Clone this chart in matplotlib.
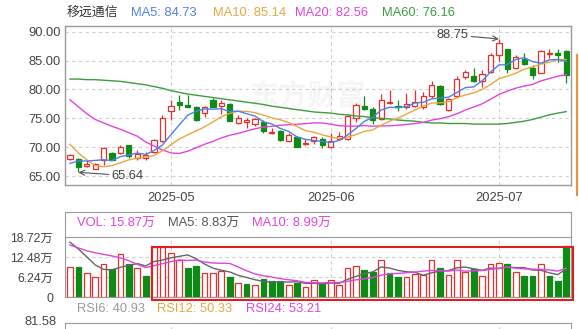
import matplotlib
matplotlib.use("Agg")
import matplotlib.pyplot as plt
import numpy as np
import pandas as pd
from matplotlib.patches import Rectangle
from matplotlib.lines import Line2D

# ---------------- data ----------------
opens = [67.9, 67.9, 66.8, 66.3, 67.8, 69.0, 69.0, 70.3, 68.2, 68.2,
         69.2, 71.1, 76.2, 77.9, 77.3, 76.9, 76.0, 78.2, 77.1, 77.4,
         74.2, 74.4, 74.0, 74.4, 72.45, 72.8, 71.1, 71.7, 70.5, 71.0,
         71.4, 70.1, 71.4, 71.5, 75.0, 77.1, 76.6, 74.8, 77.6, 77.1,
         76.9, 77.1, 76.9, 78.8, 80.6, 76.4, 78.8, 82.2, 82.3, 81.4,
         83.1, 86.0, 87.1, 83.7, 85.2, 83.7, 82.9, 86.2, 86.3, 86.6]
highs = [68.9, 68.2, 67.8, 67.2, 70.1, 69.2, 70.4, 70.4, 69.5, 69.2,
         71.5, 75.6, 78.2, 79.0, 79.1, 77.2, 77.2, 78.6, 78.2, 77.6,
         75.6, 75.0, 75.0, 74.7, 73.4, 73.0, 72.4, 71.9, 71.4, 71.9,
         71.8, 72.4, 72.6, 75.6, 77.6, 78.8, 76.9, 79.3, 79.9, 78.2,
         79.4, 79.9, 79.6, 81.5, 80.8, 78.6, 82.3, 83.4, 83.7, 83.4,
         86.3, 88.75, 87.1, 86.0, 86.3, 84.2, 86.9, 87.0, 87.0, 86.9]
lows = [67.7, 65.64, 66.5, 66.2, 66.9, 67.7, 68.8, 68.1, 67.8, 67.8,
        69.0, 70.9, 74.7, 76.4, 76.9, 74.6, 75.3, 76.9, 75.8, 74.5,
        74.0, 73.3, 73.7, 72.5, 72.3, 71.1, 70.9, 70.0, 70.4, 70.6,
        69.8, 69.8, 71.2, 71.3, 74.3, 76.4, 74.1, 74.7, 77.5, 76.2,
        76.7, 76.9, 76.6, 78.5, 77.3, 76.3, 78.5, 81.9, 81.3, 80.5,
        82.8, 85.0, 82.9, 83.5, 84.2, 81.8, 82.8, 85.4, 84.7, 81.2]
closes = [68.6, 66.6, 67.0, 67.1, 69.8, 67.8, 70.1, 68.4, 68.8, 68.6,
          71.2, 75.0, 77.2, 77.3, 77.0, 74.7, 76.9, 77.0, 77.7, 74.6,
          75.0, 74.7, 74.9, 72.8, 72.65, 71.2, 72.1, 70.1, 70.7, 71.7,
          70.4, 71.1, 71.9, 75.4, 77.3, 76.6, 74.7, 78.2, 77.8, 76.9,
          77.5, 77.9, 78.8, 80.8, 77.5, 78.3, 81.9, 83.1, 81.4, 82.7,
          86.0, 88.0, 83.5, 85.7, 84.4, 82.5, 86.7, 86.4, 86.0, 82.5]
# volume, unit: 万
volumes = [9.5, 9.5, 7.4, 6.3, 10.4, 8.8, 13.5, 10.3, 9.2, 6.7,
           15.7, 15.7, 13.85, 11.5, 8.9, 9.8, 7.4, 7.4, 8.2, 6.3,
           4.5, 4.1, 3.8, 5.7, 5.0, 5.0, 3.8, 4.4, 3.0, 5.2,
           4.1, 5.2, 3.8, 9.2, 9.8, 8.4, 7.9, 11.5, 7.6, 6.1,
           6.3, 7.1, 6.8, 11.4, 9.0, 7.0, 11.4, 7.9, 8.7, 6.7,
           10.4, 10.6, 10.4, 7.8, 6.7, 6.5, 10.2, 6.5, 5.0, 15.87]
# moving-average values before enough visible days exist
ma5_lead = [67.2, 67.6, 67.6, 67.7]
ma10_lead = [70.5, 69.0, 67.8, 66.8, 66.6, 66.8, 67.3, 67.8, 68.1]
ma20_lead = [78.2, 77.0, 75.8, 74.8, 74.2, 73.6, 73.1, 72.5, 71.9, 70.9,
             70.2, 69.5, 69.0, 68.9, 69.3, 69.9, 70.5, 71.0, 71.6]
ma60_vals = [81.8, 81.8, 81.7, 81.7, 81.6, 81.5, 81.4, 81.2, 81.0, 80.8,
             80.5, 80.2, 79.8, 79.5, 79.2, 79.0, 78.8, 78.6, 78.4, 78.2,
             78.0, 77.8, 77.6, 77.4, 77.1, 76.9, 76.7, 76.5, 76.3, 76.1,
             76.0, 75.9, 75.7, 75.6, 75.4, 75.3, 75.1, 75.0, 74.9, 74.7,
             74.6, 74.5, 74.3, 74.2, 74.2, 74.1, 74.1, 74.1, 74.0, 74.0,
             74.0, 74.0, 74.1, 74.3, 74.5, 74.8, 75.2, 75.6, 75.9, 76.16]
vma5_lead = [17.1, 15.0, 12.5, 10.0]
vma10_lead = [16.2, 15.3, 14.4, 13.8, 13.3, 12.8, 12.2, 11.3, 10.2]

date_tick_idx = [12, 31, 51]
date_tick_labels = ["2025-05", "2025-06", "2025-07"]
price_ticks = [65, 70, 75, 80, 85, 90]
vol_ticks = [0, 6.24, 12.48, 18.72]
vol_tick_labels = ["0", "6.24万", "12.48万", "18.72万"]

stock_name = "移远通信"
ma_labels = ["MA5: 84.73", "MA10: 85.14", "MA20: 82.56", "MA60: 76.16"]
vol_labels = ["VOL: 15.87万", "MA5: 8.83万", "MA10: 8.99万"]
rsi_labels = ["RSI6: 40.93", "RSI12: 50.33", "RSI24: 53.21"]
rsi_top_label = "81.58"

# ---------------- styling ----------------
RED = "#E62E2E"
GREEN = "#0E8A16"
C_MA5 = "#4F80E8"
C_MA10 = "#E9A640"
C_MA20 = "#E044E0"
C_MA60 = "#3E9B3E"
SPINE = "#9A9A9A"
GRID = "#CFCFCF"
TXT = "#444444"
FS = 9.3

plt.rcParams['font.family'] = ['Liberation Sans', 'Noto Sans CJK SC', 'DejaVu Sans']

W, H = 579, 329
fig = plt.figure(figsize=(W / 100, H / 100), dpi=100)


def rect(x0, y0, x1, y1):
    return [x0 / W, 1 - y1 / H, (x1 - x0) / W, (y1 - y0) / H]


def ftext(x, y, s, color, ha='left', fs=FS):
    fig.text(x / W, 1 - y / H, s, color=color, ha=ha, va='center', fontsize=fs)


o = np.array(opens); h = np.array(highs); l = np.array(lows); c = np.array(closes)
v = np.array(volumes)
n = len(c)
x = np.arange(n)
XL = (-0.59, 59.57)


def with_lead(series, window, lead):
    r = pd.Series(series).rolling(window).mean().to_numpy()
    r[:len(lead)] = lead
    return r


ma5 = with_lead(c, 5, ma5_lead)
ma10 = with_lead(c, 10, ma10_lead)
ma20 = with_lead(c, 20, ma20_lead)
ma60 = np.array(ma60_vals)
vma5 = with_lead(v, 5, vma5_lead)
vma10 = with_lead(v, 10, vma10_lead)

# ---------------- main candlestick panel ----------------
ax = fig.add_axes(rect(65, 26, 571, 185))
ax.set_xlim(*XL)
ax.set_ylim(63.44, 91.0)
ax.set_yticks(price_ticks)
ax.set_yticklabels([f"{t:.2f}" for t in price_ticks])
ax.set_xticks(date_tick_idx)
ax.set_xticklabels(date_tick_labels)
ax.grid(True, ls=(0, (3, 3)), color=GRID, lw=0.8)
ax.set_axisbelow(True)
ax.tick_params(length=0, labelsize=FS, colors=TXT)
ax.tick_params(axis='y', pad=3)
ax.tick_params(axis='x', pad=5)
for s in ax.spines.values():
    s.set_color(SPINE)
    s.set_linewidth(1.0)

ax.text(0.48, 0.56, "东方财富", transform=ax.transAxes, ha='center', va='center',
        fontsize=21, color='#000000', alpha=0.04, fontweight='bold',
        family=['Noto Sans CJK SC'], zorder=1)

up = c >= o
blo = np.minimum(o, c)
bhi = np.maximum(o, c)
bh = np.maximum(bhi - blo, 0.07)
cols = np.where(up, RED, GREEN)
ax.vlines(x, bhi, h, colors=cols, lw=0.9, zorder=3)
ax.vlines(x, l, blo, colors=cols, lw=0.9, zorder=3)
ax.bar(x[up], bh[up], bottom=blo[up], width=0.62, facecolor='white',
       edgecolor=RED, linewidth=0.9, zorder=3)
ax.bar(x[~up], bh[~up], bottom=blo[~up], width=0.62, facecolor=GREEN,
       edgecolor=GREEN, linewidth=0.9, zorder=3)

for ma, col in [(ma60, C_MA60), (ma20, C_MA20), (ma10, C_MA10), (ma5, C_MA5)]:
    ax.plot(x, ma, color=col, lw=1.0, zorder=4)

imax = int(np.argmax(h)); imin = int(np.argmin(l))
ax.annotate(f"{h[imax]:.2f}", xy=(x[imax], h[imax]), xytext=(-22, 3),
            textcoords='offset points', ha='right', va='center', fontsize=FS,
            color=TXT, zorder=6,
            arrowprops=dict(arrowstyle='->', color='#555555', lw=0.8,
                            shrinkA=0, shrinkB=0))
ax.annotate(f"{l[imin]:.2f}", xy=(x[imin], l[imin]), xytext=(24, -2.5),
            textcoords='offset points', ha='left', va='center', fontsize=FS,
            color=TXT, zorder=6,
            arrowprops=dict(arrowstyle='->', color='#555555', lw=0.8,
                            shrinkA=0, shrinkB=0))

# title row
ftext(67, 13, stock_name, "#333333")
for xp, s, col in zip([131, 213, 295, 382], ma_labels, [C_MA5, C_MA10, C_MA20, C_MA60]):
    ftext(xp, 13, s, col)

# ---------------- volume legend frame ----------------
axl = fig.add_axes(rect(65, 212, 571, 237))
axl.set_xticks([]); axl.set_yticks([])
axl.patch.set_alpha(0)
for k, s in axl.spines.items():
    s.set_color(SPINE)
axl.spines['bottom'].set_visible(False)
for xp, s, col in zip([77, 168, 252], vol_labels, [C_MA20, "#555555", C_MA20]):
    ftext(xp, 224, s, col)

# ---------------- volume panel ----------------
axv = fig.add_axes(rect(65, 237, 571, 297))
axv.set_xlim(*XL)
axv.set_ylim(0, 18.72)
axv.set_yticks(vol_ticks)
axv.set_yticklabels(vol_tick_labels)
axv.set_xticks(date_tick_idx)
axv.set_xticklabels([])
axv.grid(True, ls=(0, (3, 3)), color=GRID, lw=0.8)
axv.set_axisbelow(True)
axv.tick_params(length=0, labelsize=FS - 0.5, colors=TXT, pad=8.5)
for s in axv.spines.values():
    s.set_color(SPINE)

prev = np.concatenate([[o[0]], c[:-1]])
vup = c >= prev
axv.bar(x[vup], v[vup], width=0.68, facecolor='white', edgecolor=RED,
        linewidth=0.9, zorder=3)
axv.bar(x[~vup], v[~vup], width=0.68, facecolor=GREEN, edgecolor=GREEN,
        linewidth=0.9, zorder=3)
axv.plot(x, vma5, color='#666666', lw=1.0, zorder=4)
axv.plot(x, vma10, color=C_MA20, lw=1.0, zorder=4)

# highlight box
fig.patches.append(Rectangle((152 / W, 1 - 300 / H), (573 - 152) / W, (300 - 247) / H,
                             transform=fig.transFigure, fill=False,
                             edgecolor='#E02020', lw=1.5, zorder=10))

# ---------------- RSI row (cut off) ----------------
for xp, s, col in zip([77, 157, 246], rsi_labels, ["#9A9A9A", C_MA10, C_MA20]):
    ftext(xp, 309, s, col)
ftext(57, 322, rsi_top_label, TXT, ha='right')
axr = fig.add_axes(rect(65, 323, 571, 420))
axr.set_xlim(*XL)
axr.set_xticks(date_tick_idx)
axr.set_xticklabels([])
axr.set_yticks([])
axr.grid(True, axis='x', ls=(0, (3, 3)), color=GRID, lw=0.8)
axr.tick_params(length=0)
for s in axr.spines.values():
    s.set_color(SPINE)

# cut-off side element on the right edge
fig.add_artist(Line2D([577 / W, 577 / W], [1 - 55 / H, 1 - 195 / H],
                      transform=fig.transFigure, color='#F0903A', lw=1.5))

fig.savefig("out.png", dpi=100)
